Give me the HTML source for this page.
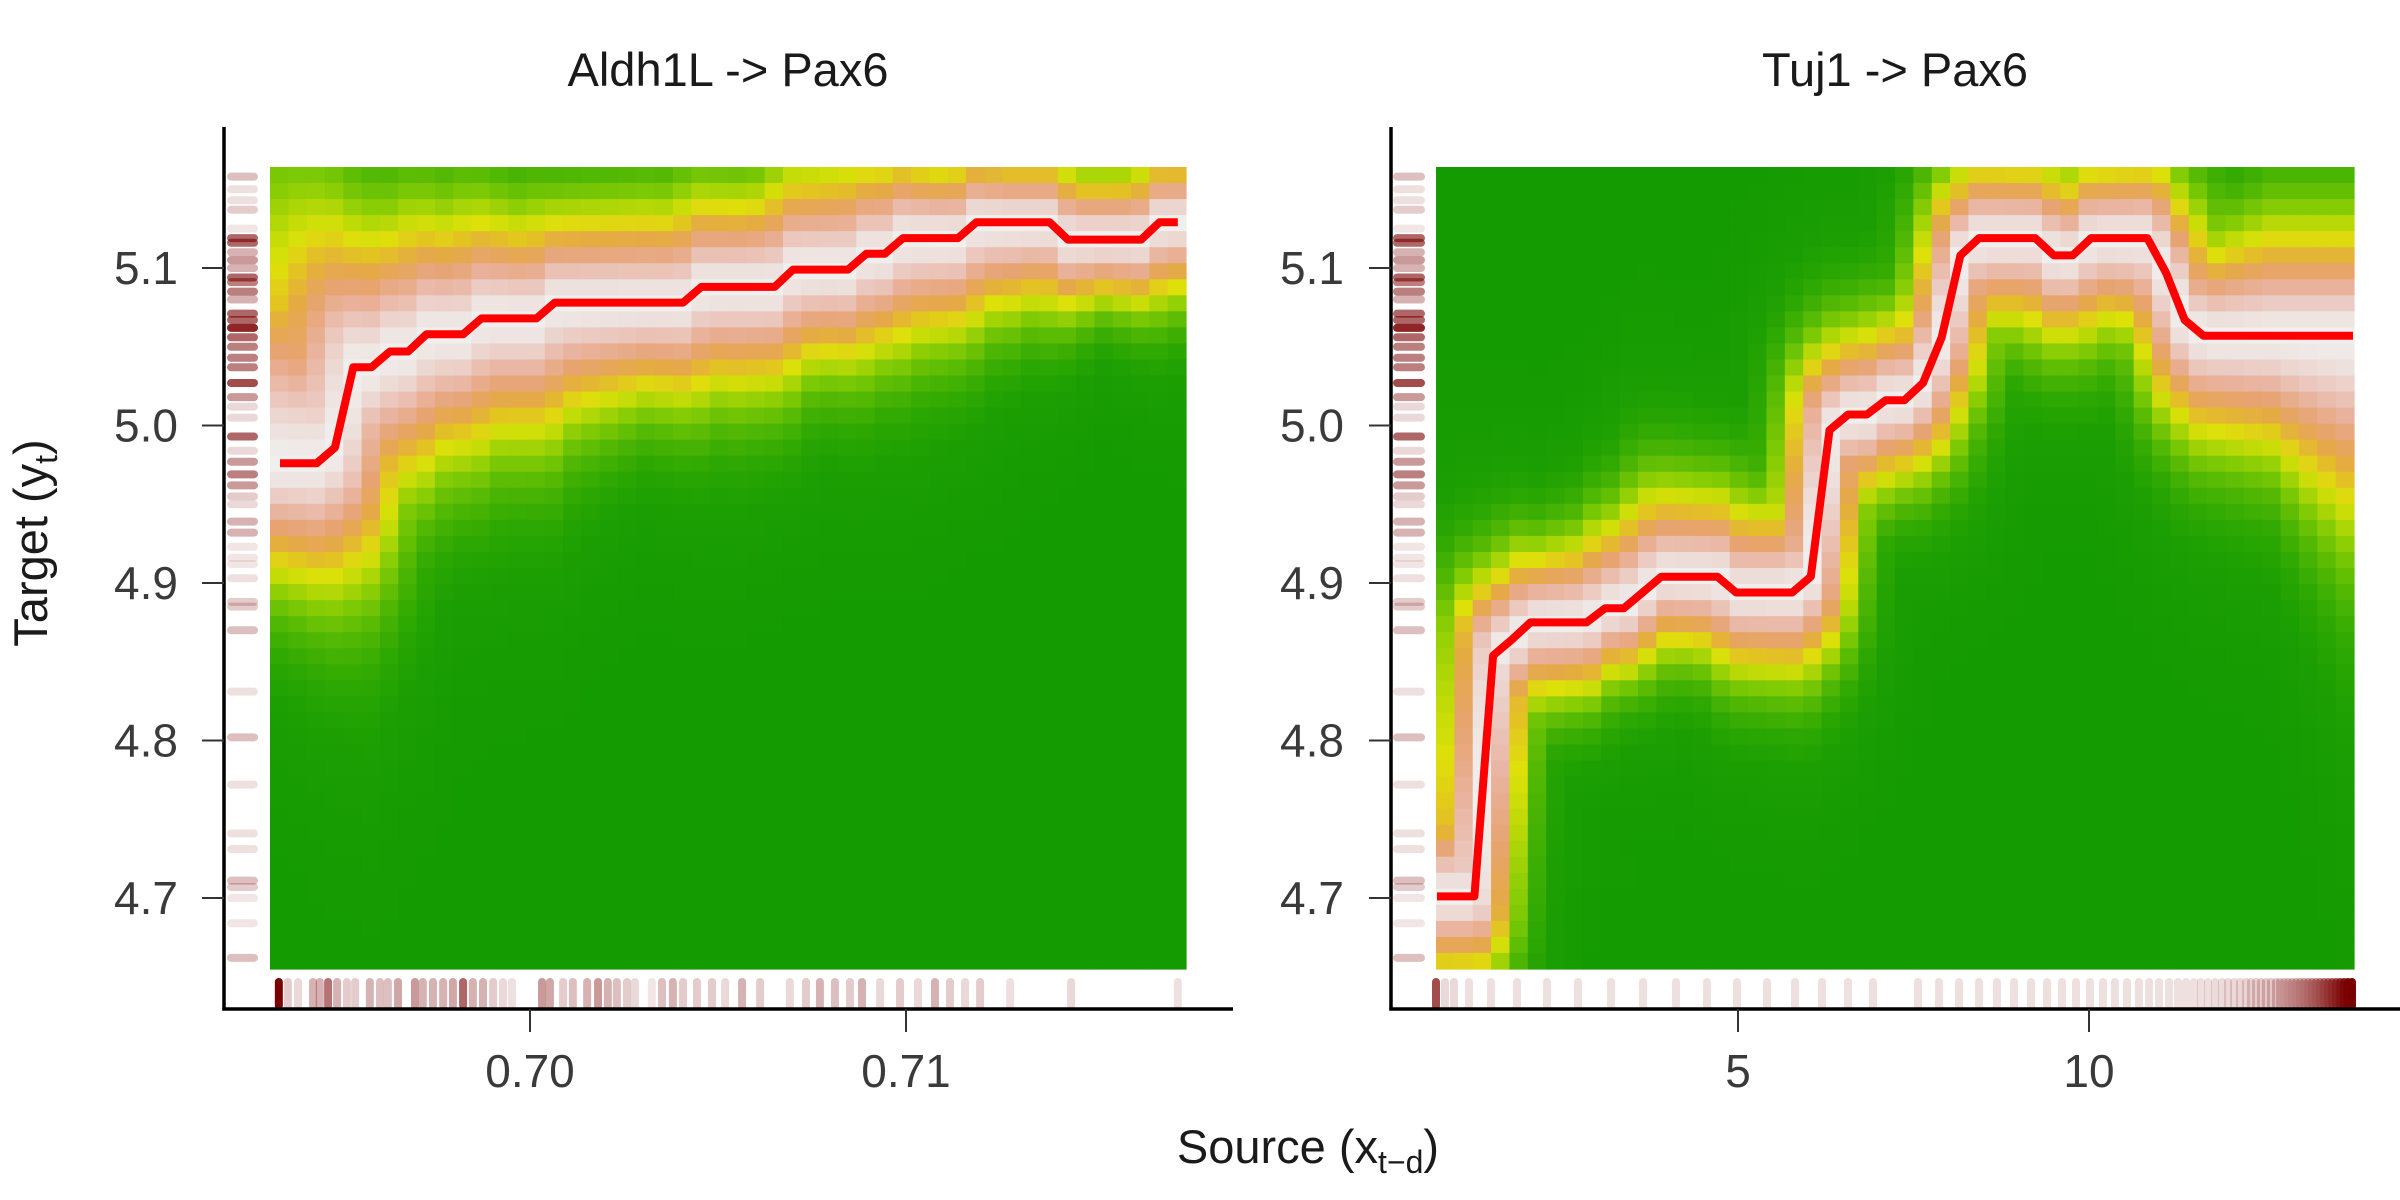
<!DOCTYPE html>
<html><head><meta charset="utf-8"><title>Aldh1L / Tuj1 -> Pax6</title>
<style>
html,body{margin:0;padding:0;background:#fff;}
svg{display:block;}
text{font-family:"Liberation Sans",Arial,sans-serif;}
</style></head>
<body>
<svg id="chart" width="2400" height="1200" viewBox="0 0 2400 1200" xmlns="http://www.w3.org/2000/svg"></svg>
<script>
// ---------- data ----------
const yTickValues = [4.7, 4.8, 4.9, 5.0, 5.1];
const yTickLabels = ["4.7", "4.8", "4.9", "5.0", "5.1"];
const leftXTickValues = [0.70, 0.71];
const leftXTickLabels = ["0.70", "0.71"];
const rightXTickValues = [5, 10];
const rightXTickLabels = ["5", "10"];

const leftLineXRange = [0.69335, 0.71723];
const rightLineXRange = [0.712, 13.76];

const leftLineY = [4.976,4.976,4.976,4.986,5.037,5.037,5.047,5.047,5.058,5.058,
  5.058,5.068,5.068,5.068,5.068,5.078,5.078,5.078,5.078,5.078,
  5.078,5.078,5.078,5.088,5.088,5.088,5.088,5.088,5.099,5.099,
  5.099,5.099,5.109,5.109,5.119,5.119,5.119,5.119,5.129,5.129,
  5.129,5.129,5.129,5.118,5.118,5.118,5.118,5.118,5.129,5.129];
const rightLineY = [4.701,4.701,4.701,4.854,4.864,4.875,4.875,4.875,4.875,4.884,
  4.884,4.894,4.904,4.904,4.904,4.904,4.894,4.894,4.894,4.894,
  4.904,4.997,5.007,5.007,5.016,5.016,5.027,5.056,5.108,5.119,
  5.119,5.119,5.119,5.108,5.108,5.119,5.119,5.119,5.119,5.097,
  5.067,5.057,5.057,5.057,5.057,5.057,5.057,5.057,5.057,5.057];

// band half-widths (y units) above / below line at columns 0,5,...,45,49
const leftSpreadUp = [0.114,0.074,0.063,0.051,0.053,0.051,0.057,0.043,0.035,0.035,0.036];
const leftSpreadDown = [0.065,0.080,0.069,0.068,0.053,0.059,0.053,0.057,0.050,0.034,0.043];
const rightSpreadUp = [0.050,0.040,0.051,0.047,0.048,0.044,0.043,0.041,0.044,0.063,0.063];
const rightSpreadDown = [0.044,0.043,0.037,0.044,0.048,0.044,0.048,0.048,0.057,0.066,0.114];

// rug data (target values shared by both panels)
const yRugValues = [5.158,5.150,5.143,5.137,5.125,5.119,5.116,5.110,5.105,5.100,5.094,5.091,5.085,5.080,5.071,5.067,5.062,5.056,5.050,5.043,5.037,5.027,5.018,5.012,5.005,4.993,4.984,4.977,4.969,4.962,4.955,4.950,4.939,4.932,4.923,4.916,4.912,4.903,4.888,4.885,4.870,4.831,4.802,4.772,4.741,4.731,4.711,4.707,4.700,4.684,4.662];
const yRugAlpha = [0.25,0.12,0.12,0.2,0.1,0.6,0.6,0.3,0.4,0.3,0.6,0.5,0.5,0.3,0.6,0.6,0.85,0.6,0.5,0.5,0.5,0.7,0.4,0.15,0.15,0.6,0.15,0.4,0.5,0.4,0.2,0.15,0.3,0.3,0.1,0.1,0.1,0.12,0.2,0.2,0.25,0.12,0.25,0.12,0.12,0.12,0.25,0.2,0.1,0.1,0.25];

const leftXRugValues = [0.69332,0.69356,0.69383,0.69423,0.69441,0.69463,0.69487,0.69513,0.69535,0.69574,0.69601,0.69622,0.69649,0.69694,0.69715,0.69742,0.69769,0.69795,0.69822,0.69848,0.69875,0.69902,0.69928,0.69952,0.70032,0.70053,0.70088,0.70114,0.70152,0.70181,0.70207,0.70231,0.70258,0.70279,0.70324,0.70351,0.70380,0.70407,0.70444,0.70484,0.70519,0.70564,0.70612,0.70691,0.70734,0.70771,0.70811,0.70851,0.70883,0.70931,0.70984,0.71032,0.71077,0.71117,0.71157,0.71197,0.71277,0.71439,0.71723];
const leftXRugAlpha = [1.0,0.2,0.15,0.3,0.3,0.55,0.3,0.2,0.2,0.3,0.25,0.25,0.35,0.4,0.3,0.3,0.3,0.35,0.6,0.3,0.3,0.2,0.15,0.12,0.4,0.35,0.2,0.25,0.3,0.4,0.3,0.25,0.2,0.15,0.1,0.25,0.3,0.2,0.2,0.2,0.15,0.3,0.2,0.15,0.2,0.3,0.25,0.2,0.3,0.15,0.2,0.15,0.3,0.2,0.15,0.2,0.12,0.15,0.12];

const rightXRugValues = [0.698,0.826,0.954,1.168,1.481,1.852,2.279,2.721,3.191,3.647,4.117,4.558,4.986,5.413,5.812,6.197,6.567,6.923,7.564,7.863,8.148,8.433,8.689,8.932,9.174,9.402,9.615,9.815,10.014,10.199,10.370,10.541,10.712,10.855,10.997,11.140,11.268,11.382,11.496,11.595,11.695,11.795,11.895,11.980,12.066,12.151,12.237,12.308,12.379,12.450,12.521,12.593,12.664,12.721,12.778,12.835,12.892,12.949,13.006,13.063,13.120,13.177,13.234,13.291,13.348,13.405,13.462,13.519,13.576,13.632,13.689,13.746];
const rightXRugAlpha = [0.7,0.15,0.15,0.12,0.12,0.12,0.12,0.12,0.12,0.12,0.12,0.12,0.12,0.12,0.12,0.12,0.12,0.12,0.12,0.12,0.12,0.12,0.12,0.12,0.12,0.12,0.12,0.12,0.12,0.12,0.12,0.12,0.12,0.12,0.12,0.12,0.12,0.12,0.12,0.13,0.13,0.14,0.14,0.15,0.15,0.16,0.17,0.18,0.19,0.2,0.21,0.22,0.23,0.24,0.25,0.27,0.29,0.31,0.33,0.35,0.38,0.41,0.44,0.48,0.52,0.57,0.62,0.68,0.75,0.85,0.95,1.0];

// ---------- layout ----------
const NS = 'http://www.w3.org/2000/svg';
const svg = document.getElementById('chart');
const Y0PX = 898, YPX_PER_UNIT = 1575;
function yScale(v){ return Y0PX - (v - 4.7) * YPX_PER_UNIT; }
const PLOT_TOP = 167, PLOT_BOTTOM = 969;
const HFACTOR = 2;
const panels = [
  {key:'left', title:'Aldh1L -> Pax6', px0:270, px1:1186, axisX:224, axisEnd:1233,
   xScale: v => 530 + (v - 0.70) * 37600,
   lineY:leftLineY, lineRange:leftLineXRange, up:leftSpreadUp, down:leftSpreadDown,
   xTicks:leftXTickValues, xLabels:leftXTickLabels, xRug:leftXRugValues, xRugA:leftXRugAlpha, yRugX:[231,254], lblX:178},
  {key:'right', title:'Tuj1 -> Pax6', px0:1436, px1:2354, axisX:1391, axisEnd:2400,
   xScale: v => 1738 + (v - 5) * 70.2,
   lineY:rightLineY, lineRange:rightLineXRange, up:rightSpreadUp, down:rightSpreadDown,
   xTicks:rightXTickValues, xLabels:rightXTickLabels, xRug:rightXRugValues, xRugA:rightXRugAlpha, yRugX:[1397,1421], lblX:1344}
];

const stops = [[0,'#159B02'],[0.08,'#1D9F03'],[0.16,'#2EA803'],[0.26,'#52B804'],[0.36,'#85CC05'],[0.45,'#C4DC08'],[0.5,'#DEE00A'],[0.56,'#E3C322'],[0.63,'#E5AA45'],[0.71,'#E7A472'],[0.79,'#E9B29C'],[0.87,'#EBC9C0'],[0.94,'#EDE0DC'],[1,'#F0EFEE']];
function hex(h){ return [parseInt(h.substr(1,2),16),parseInt(h.substr(3,2),16),parseInt(h.substr(5,2),16)]; }
function cmap(v){
  v = Math.max(0, Math.min(1, v));
  for (let k = 1; k < stops.length; k++) {
    if (v <= stops[k][0]) {
      const a = stops[k-1], b = stops[k], t = (v - a[0]) / (b[0] - a[0]);
      const ca = hex(a[1]), cb = hex(b[1]);
      return 'rgb(' + ca.map((c,i) => Math.round(c + (cb[i]-c)*t)).join(',') + ')';
    }
  }
  return stops[stops.length-1][1];
}
function anchorSpread(arr, col){
  const pos = col / 5, k = Math.min(Math.floor(pos), arr.length - 2), t = Math.min(1, pos - k);
  return arr[k] + (arr[k+1] - arr[k]) * t;
}
function mk(tag, attrs, parent){
  const el = document.createElementNS(NS, tag);
  for (const k in attrs) el.setAttribute(k, attrs[k]);
  (parent || svg).appendChild(el);
  return el;
}

const NCOL = 50, NROW = 50;
panels.forEach(p => {
  const g = mk('g', {});
  
  

  const pts = p.lineY.map((v, i) => {
    const xv = p.lineRange[0] + i * (p.lineRange[1] - p.lineRange[0]) / (p.lineY.length - 1);
    return [p.xScale(xv), yScale(v)];
  });

  const hg = mk('g', {}, g);
  
  
  const cw = (p.px1 - p.px0) / NCOL, ch = (PLOT_BOTTOM - PLOT_TOP) / NROW;
  for (let i = 0; i < NCOL; i++) {
    const su = anchorSpread(p.up, i) * YPX_PER_UNIT, sd = anchorSpread(p.down, i) * YPX_PER_UNIT;
    for (let j = 0; j < NROW; j++) {
      const cx = p.px0 + (i + 0.5) * cw, cy = PLOT_TOP + (j + 0.5) * ch;
      let best = Infinity;
      for (let s = 0; s < pts.length - 1; s++) {
        const ax = pts[s][0] * HFACTOR, ay = pts[s][1], bx = pts[s+1][0] * HFACTOR, by = pts[s+1][1];
        const px = cx * HFACTOR, py = cy;
        const dx = bx - ax, dy = by - ay;
        let t = ((px - ax) * dx + (py - ay) * dy) / (dx*dx + dy*dy);
        t = Math.max(0, Math.min(1, t));
        const qx = ax + t*dx, qy = ay + t*dy;
        const ddy = py - qy, ddx = px - qx;
        const spread = ddy < 0 ? su : sd;
        const d = Math.sqrt(ddx*ddx + ddy*ddy) / spread;
        if (d < best) best = d;
      }
      const val = Math.exp(-Math.LN2 * Math.pow(best, 1.5));
      const r = mk('rect', {x:(p.px0 + i*cw).toFixed(2), y:(PLOT_TOP + j*ch).toFixed(2), width:(cw+0.6).toFixed(2), height:(ch+0.6).toFixed(2), fill:cmap(val)}, hg);
      
      
    }
  }

  const line = mk('polyline', {points: pts.map(q => q[0].toFixed(1) + ',' + q[1].toFixed(1)).join(' '), fill:'none', stroke:'#FF0000', 'stroke-width':8, 'stroke-linejoin':'round'}, g);
  
  

  const yr = mk('g', {}, g);
  
  
  yRugValues.forEach((v, k) => {
    const y = yScale(v);
    const l = mk('line', {x1:p.yRugX[0], x2:p.yRugX[1], y1:y, y2:y, stroke:'#7A0000', 'stroke-opacity':yRugAlpha[k], 'stroke-width':8, 'stroke-linecap':'round'}, yr);
    
    
  });

  const xr = mk('g', {}, g);
  
  
  p.xRug.forEach((v, k) => {
    const x = p.xScale(v);
    const l = mk('line', {x1:x, x2:x, y1:982, y2:1006, stroke:'#7A0000', 'stroke-opacity':p.xRugA[k], 'stroke-width':8, 'stroke-linecap':'round'}, xr);
    
    
  });

  const ya = mk('line', {x1:p.axisX, x2:p.axisX, y1:127, y2:1010.5, stroke:'#000', 'stroke-width':3.5}, g);
  
  
  const xa = mk('line', {x1:p.axisX - 1.75, x2:p.axisEnd, y1:1009, y2:1009, stroke:'#000', 'stroke-width':3.5}, g);
  
  

  yTickValues.forEach((v, k) => {
    const y = yScale(v);
    const t = mk('line', {x1:p.axisX - 22, x2:p.axisX, y1:y, y2:y, stroke:'#333', 'stroke-width':2}, g);
    
    
    const lb = mk('text', {x:p.lblX, y:y + 16, 'text-anchor':'end', 'font-size':46, fill:'#3a3a3a'}, g);
    lb.textContent = yTickLabels[k];
    
    
  });
  p.xTicks.forEach((v, k) => {
    const x = p.xScale(v);
    const t = mk('line', {x1:x, x2:x, y1:1009, y2:1032, stroke:'#333', 'stroke-width':2}, g);
    
    
    const lb = mk('text', {x:x, y:1087, 'text-anchor':'middle', 'font-size':46, fill:'#3a3a3a'}, g);
    lb.textContent = p.xLabels[k];
    
    
  });

  const tt = mk('text', {x:(p.px0 + p.px1) / 2, y:86, 'text-anchor':'middle', 'font-size':47, fill:'#1a1a1a'}, g);
  tt.textContent = p.title;
  
  
});
</script>
<script>
(function(){
  const NS = 'http://www.w3.org/2000/svg';
  const svg = document.getElementById('chart');
  const yt = document.createElementNS(NS, 'text');
  yt.setAttribute('transform', 'translate(47,543) rotate(-90)');
  yt.setAttribute('text-anchor', 'middle');
  yt.setAttribute('font-size', '47');
  yt.setAttribute('fill', '#1a1a1a');
  yt.innerHTML = 'Target (y<tspan font-size="32" dy="10">t</tspan><tspan dy="-10">)</tspan>';
  
  
  svg.appendChild(yt);
  const xt = document.createElementNS(NS, 'text');
  xt.setAttribute('x', '1308');
  xt.setAttribute('y', '1163');
  xt.setAttribute('text-anchor', 'middle');
  xt.setAttribute('font-size', '47');
  xt.setAttribute('fill', '#1a1a1a');
  xt.innerHTML = 'Source (x<tspan font-size="32" dy="10">t\u2212d</tspan><tspan dy="-10">)</tspan>';
  
  
  svg.appendChild(xt);
})();
</script>
</body></html>
